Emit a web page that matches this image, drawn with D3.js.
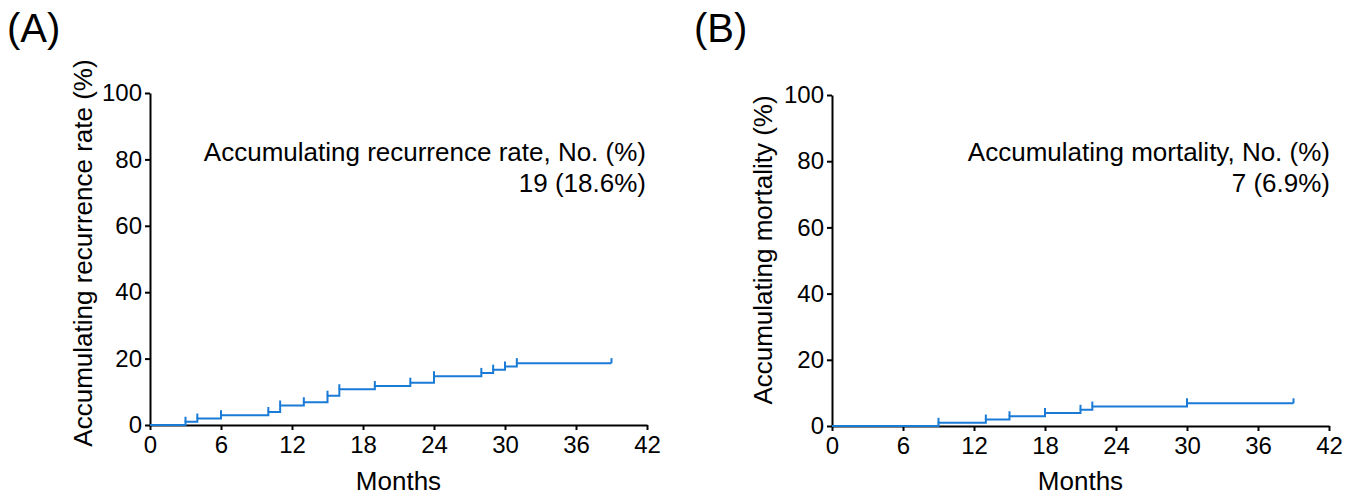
<html>
    <head>
        <style>
        body {
            margin: 0;
            background: white;
        }

        svg {
            font-family: "Liberation Sans", Arial, sans-serif;
            color: #000;
        }

        .axis path,
        .axis line {
            stroke: #000;
            stroke-width: 2px;
        }

        .axis text {
            font-size: 24px;
            fill: #000;
        }

        .title {
            font-size: 26px;
        }

        .panel-label {
            font-size: 40px;
        }
        </style>
    </head>
    <body>
        <div id="chart"></div>
        <script src="https://d3js.org/d3.v7.min.js"></script>
        <script>

            // panel A: cumulative recurrence (step starts, % at each step)
            let monthsA = [0, 3, 4, 6, 10, 11, 13, 15, 16, 19, 22, 24, 28, 29, 30, 31]
            let rateA = [0, 0.98, 1.96, 2.94, 3.92, 5.88, 6.86, 8.82, 10.78, 11.76, 12.75, 14.71, 15.69, 16.67, 17.65, 18.63]
            let censorA = [3, 4, 6, 10, 11, 13, 15, 16, 19, 22, 24, 28, 29, 30, 31, 39]
            let endA = 39

            // panel B: cumulative mortality
            let monthsB = [0, 9, 13, 15, 18, 21, 22, 30]
            let rateB = [0, 0.98, 1.96, 2.94, 3.92, 4.90, 5.88, 6.86]
            let censorB = [9, 13, 15, 18, 21, 22, 30, 39]
            let endB = 39

            let xTicks = [0, 6, 12, 18, 24, 30, 36, 42]
            let yTicks = [0, 20, 40, 60, 80, 100]

            let width = 1357
            let height = 498
            let blue = "#1a7bd6"

            let svg = d3.select("#chart")
                .append("svg")
                .attr("width", width)
                .attr("height", height)

            function drawPanel(opt) {
                let x = d3.scaleLinear()
                    .domain([0, 42])
                    .range([opt.left, opt.right])

                let y = d3.scaleLinear()
                    .domain([0, 100])
                    .range([opt.bottom, opt.top])

                let g = svg.append("g")

                g.append("g")
                    .attr("class", "axis")
                    .attr("transform", `translate(0, ${opt.bottom})`)
                    .call(d3.axisBottom(x).tickValues(xTicks).tickSize(5).tickSizeOuter(0).tickPadding(6))

                g.append("g")
                    .attr("class", "axis")
                    .attr("transform", `translate(${opt.left}, 0)`)
                    .call(d3.axisLeft(y).tickValues(yTicks).tickSize(5).tickSizeOuter(0).tickPadding(3))

                let pts = opt.months.map((m, i) => [m, opt.rate[i]])
                pts.push([opt.end, opt.rate[opt.rate.length - 1]])

                let line = d3.line()
                    .x(d => x(d[0]))
                    .y(d => y(d[1]))
                    .curve(d3.curveStepAfter)

                g.append("path")
                    .datum(pts)
                    .attr("d", line)
                    .attr("fill", "none")
                    .attr("stroke", blue)
                    .attr("stroke-width", 2)

                // censor ticks sit just above the curve
                let level = m => opt.rate[d3.bisectRight(opt.months, m) - 1]
                g.selectAll(".cens")
                    .data(opt.censor)
                    .join("line")
                    .attr("x1", d => x(d))
                    .attr("x2", d => x(d))
                    .attr("y1", d => y(level(d)))
                    .attr("y2", d => y(level(d)) - 5)
                    .attr("stroke", blue)
                    .attr("stroke-width", 2)

                g.append("text")
                    .attr("class", "title")
                    .attr("text-anchor", "middle")
                    .attr("x", (opt.left + opt.right) / 2)
                    .attr("y", 490)
                    .text("Months")

                g.append("text")
                    .attr("class", "title")
                    .attr("text-anchor", "middle")
                    .attr("transform", `translate(${opt.yTitleX}, ${opt.yTitleY}) rotate(-90)`)
                    .text(opt.yTitle)

                g.append("text")
                    .attr("class", "title")
                    .attr("text-anchor", "end")
                    .attr("x", opt.noteX)
                    .attr("y", 161)
                    .text(opt.note1)

                g.append("text")
                    .attr("class", "title")
                    .attr("text-anchor", "end")
                    .attr("x", opt.noteX)
                    .attr("y", 192)
                    .text(opt.note2)

                g.append("text")
                    .attr("class", "panel-label")
                    .attr("x", opt.labelX)
                    .attr("y", 42)
                    .text(opt.label)
            }

            drawPanel({
                left: 150, right: 647, top: 93, bottom: 425,
                months: monthsA, rate: rateA, censor: censorA, end: endA,
                yTitle: "Accumulating recurrence rate (%)", yTitleX: 92, yTitleY: 253,
                note1: "Accumulating recurrence rate, No. (%)", note2: "19 (18.6%)", noteX: 646,
                label: "(A)", labelX: 7
            })

            drawPanel({
                left: 832, right: 1329, top: 95, bottom: 426,
                months: monthsB, rate: rateB, censor: censorB, end: endB,
                yTitle: "Accumulating mortality (%)", yTitleX: 772, yTitleY: 250,
                note1: "Accumulating mortality, No. (%)", note2: "7 (6.9%)", noteX: 1330,
                label: "(B)", labelX: 694
            })

        </script>
    </body>
</html>
